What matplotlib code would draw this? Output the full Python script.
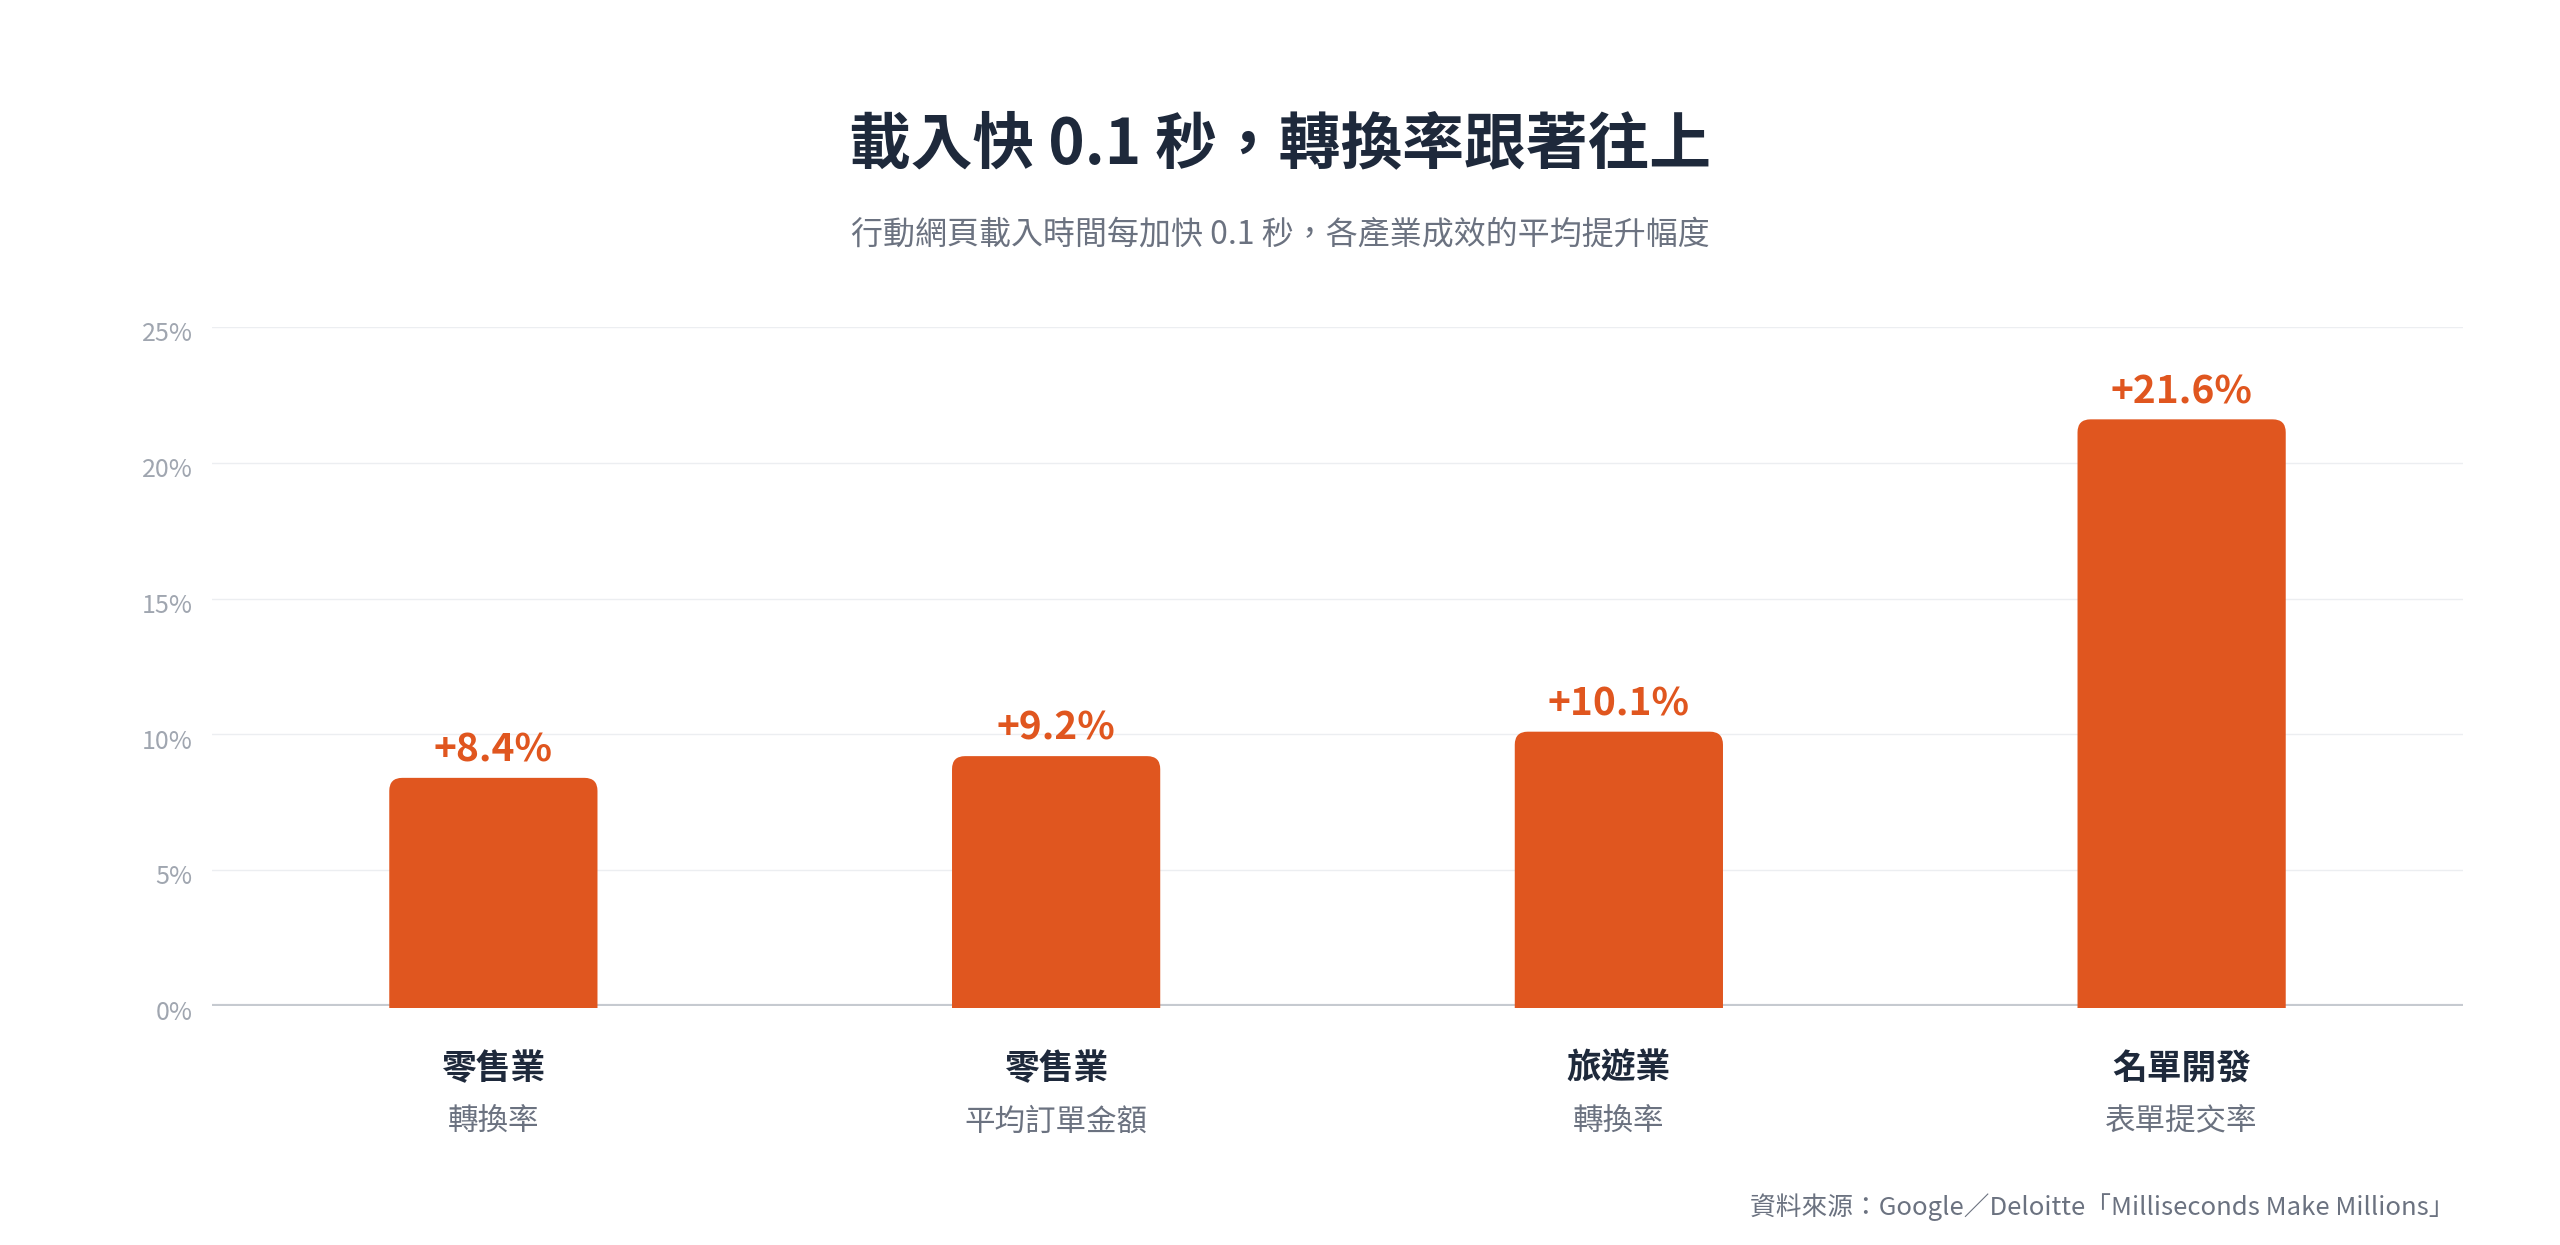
import matplotlib
matplotlib.use('Agg')
import matplotlib.pyplot as plt
from matplotlib.patches import FancyBboxPatch, Rectangle
import matplotlib.transforms as mtransforms
import numpy as np

plt.rcParams['font.family'] = ['Noto Sans CJK TC', 'DejaVu Sans']

# data
categories = ['零售業', '零售業', '旅遊業', '名單開發']
metrics = ['轉換率', '平均訂單金額', '轉換率', '表單提交率']
values = [8.4, 9.2, 10.1, 21.6]
value_labels = ['+8.4%', '+9.2%', '+10.1%', '+21.6%']
yticks = [0, 5, 10, 15, 20, 25]
ytick_labels = ['0%', '5%', '10%', '15%', '20%', '25%']

title = '載入快 0.1 秒，轉換率跟著往上'
subtitle = '行動網頁載入時間每加快 0.1 秒，各產業成效的平均提升幅度'
source = '資料來源：Google／Deloitte「Milliseconds Make Millions」'

bar_color = '#E0561F'
dark = '#1E293B'
gray = '#6B7280'
light = '#A0A6B0'

W, H = 2560, 1245
fig = plt.figure(figsize=(W / 100, H / 100), dpi=100)
ax_l, ax_r, ax_t, ax_b = 212, 2463, 327, 1006
ax = fig.add_axes([ax_l / W, 1 - ax_b / H, (ax_r - ax_l) / W, (ax_b - ax_t) / H])

x = np.arange(len(values))
xlim = (-0.5, len(values) - 0.5)
ylim = (0, 25)
ax.set_xlim(*xlim)
ax.set_ylim(*ylim)

# grid
for t in yticks[1:]:
    ax.axhline(t, color='#ECEEF1', lw=1.0, zorder=0)
ax.axhline(0, color='#C6CAD0', lw=3.0, zorder=1)

# bars with rounded tops (one patch each, bottom corners clipped away)
bar_w = 0.37
bars = ax.bar(x, values, width=bar_w, color='none')
xpp = (xlim[1] - xlim[0]) / (ax_r - ax_l)
ypp = (ylim[1] - ylim[0]) / (ax_b - ax_t)
aspect = ypp / xpp
radius = 13 * xpp
below = 2 * ypp
for b in bars:
    bx, bw, bh = b.get_x(), b.get_width(), b.get_height()
    y0 = -3 * radius * aspect
    p = FancyBboxPatch((bx + radius, y0 + radius * aspect), bw - 2 * radius,
                       bh - y0 - 2 * radius * aspect,
                       boxstyle='round,pad=%f,rounding_size=%f' % (radius, radius),
                       mutation_aspect=aspect, fc=bar_color, ec='none', zorder=2)
    ax.add_patch(p)
    clip = Rectangle((bx - 1, -below), bw + 2, bh + 10, transform=ax.transData)
    p.set_clip_path(clip)
    b.remove()

for xi, v, lab in zip(x, values, value_labels):
    ax.annotate(lab, (xi, v), xytext=(0, 20), textcoords='offset points',
                ha='center', va='center', fontsize=28, fontweight='heavy',
                color=bar_color, annotation_clip=False)

for xi, c, m in zip(x, categories, metrics):
    ax.text(xi, -0.092, c, transform=ax.get_xaxis_transform(), ha='center',
            va='center', fontsize=25, fontweight='heavy', color=dark)
    ax.text(xi, -0.171, m, transform=ax.get_xaxis_transform(), ha='center',
            va='center', fontsize=22, color=gray)

ax.set_yticks(yticks)
ax.set_yticklabels(ytick_labels, fontsize=18, color=light)
ax.set_xticks([])
ax.tick_params(axis='y', length=0, pad=14)
shift = mtransforms.ScaledTranslation(0, -3 / 72, fig.dpi_scale_trans)
for lbl in ax.get_yticklabels():
    lbl.set_transform(lbl.get_transform() + shift)
for s in ax.spines.values():
    s.set_visible(False)

fig.text(0.5, 1 - 145 / H, title, ha='center', va='center', fontsize=44.5,
         fontweight='heavy', color=dark)
fig.text(0.5, 1 - 234 / H, subtitle, ha='center', va='center', fontsize=23,
         color=gray)
fig.text(2455 / W, 1 - 1207 / H, source, ha='right', va='center', fontsize=18.5,
         color=gray)

fig.savefig('out.png', dpi=100, facecolor='white')
